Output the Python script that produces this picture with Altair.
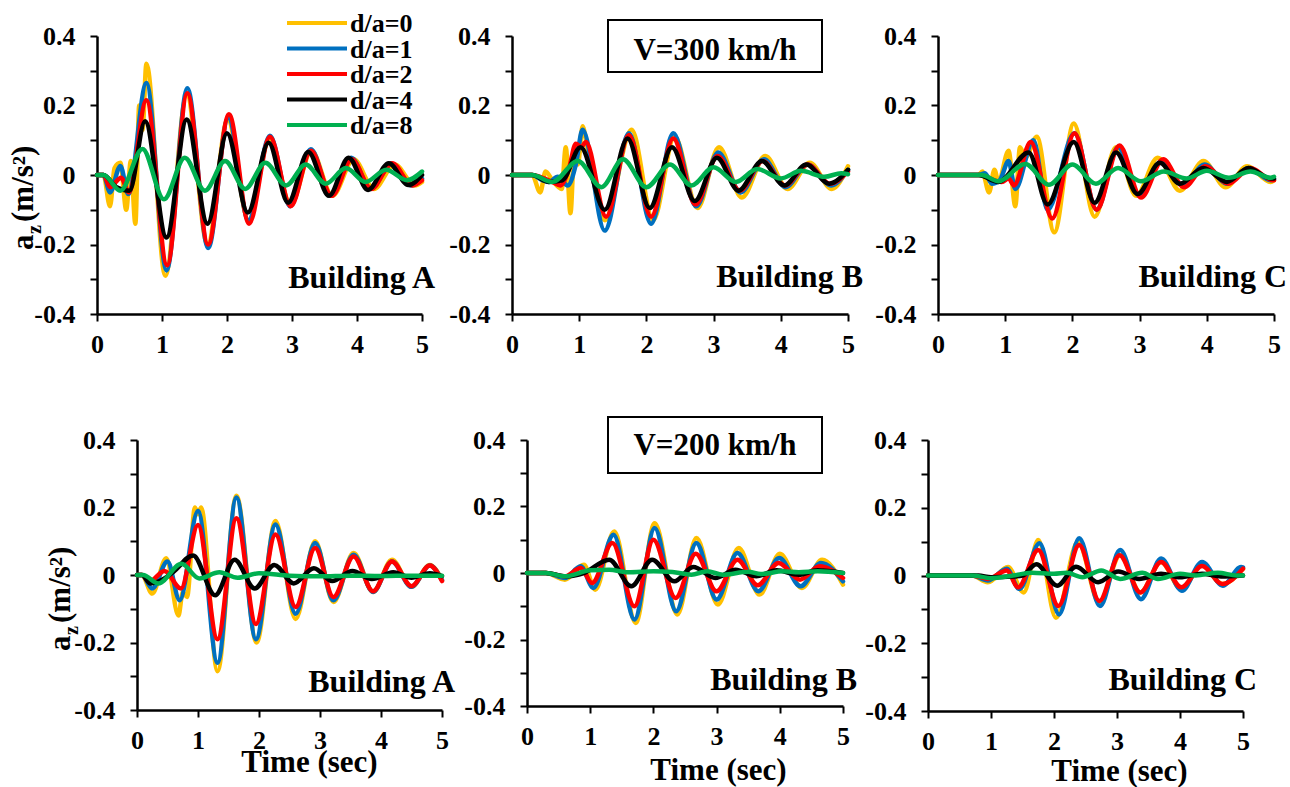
import altair as alt
import pandas as pd

SERIES = ["d/a=0", "d/a=1", "d/a=2", "d/a=4", "d/a=8"]
COLORS = ["#FFC000", "#0070C0", "#FF0000", "#000000", "#00B050"]
X_TICKS = [0, 1, 2, 3, 4, 5]
Y_TICKS = [-0.4, -0.3, -0.2, -0.1, 0, 0.1, 0.2, 0.3, 0.4]

# ---------------- V = 300 km/h ----------------
# Building A
A300_0 = [(0,0),(0.1,0),(0.2,-0.09),(0.27,0.02),(0.36,0.035),(0.45,-0.1),(0.52,0.04),(0.59,-0.14),(0.65,0.2),(0.7,0.13),(0.76,0.32),(1.05,-0.29),(1.38,0.23),(1.7,-0.2),(2.01,0.16),(2.33,-0.13),(2.65,0.1),(2.98,-0.085),(3.3,0.07),(3.62,-0.06),(3.95,0.045),(4.26,-0.04),(4.58,0.03),(4.89,-0.03),(5.0,-0.02)]
A300_1 = [(0,0),(0.1,0),(0.2,-0.05),(0.36,0.026),(0.48,-0.055),(0.76,0.265),(1.07,-0.275),(1.39,0.25),(1.71,-0.21),(2.02,0.165),(2.33,-0.13),(2.66,0.113),(2.97,-0.09),(3.29,0.074),(3.6,-0.06),(3.91,0.05),(4.21,-0.04),(4.53,0.032),(4.84,-0.03),(5.0,-0.01)]
A300_2 = [(0,0),(0.1,0),(0.2,-0.035),(0.37,-0.008),(0.49,-0.05),(0.76,0.215),(1.08,-0.26),(1.39,0.235),(1.71,-0.2),(2.03,0.175),(2.34,-0.14),(2.66,0.11),(2.98,-0.09),(3.29,0.07),(3.61,-0.06),(3.92,0.045),(4.22,-0.04),(4.54,0.034),(4.85,-0.03),(5.0,-0.015)]
A300_4 = [(0,0),(0.1,0),(0.3,-0.035),(0.5,-0.045),(0.74,0.155),(1.07,-0.18),(1.38,0.16),(1.7,-0.14),(2.0,0.12),(2.32,-0.108),(2.64,0.093),(2.94,-0.08),(3.25,0.066),(3.57,-0.06),(3.87,0.05),(4.17,-0.043),(4.49,0.034),(4.79,-0.029),(5.0,0.0)]
A300_8 = [(0,0),(0.1,0),(0.36,-0.045),(0.7,0.075),(1.03,-0.07),(1.35,0.05),(1.66,-0.045),(1.97,0.04),(2.28,-0.04),(2.59,0.035),(2.91,-0.03),(3.21,0.03),(3.52,-0.025),(3.83,0.02),(4.13,-0.02),(4.45,0.015),(4.77,-0.015),(5.0,0.01)]
# Building B
B300_0 = [(0,0),(0.3,0),(0.42,-0.05),(0.5,0.01),(0.6,-0.015),(0.74,-0.04),(0.8,0.08),(0.87,-0.11),(0.93,0.08),(0.98,0.03),(1.05,0.14),(1.12,0.08),(1.38,-0.13),(1.78,0.13),(2.1,-0.13),(2.42,0.11),(2.76,-0.095),(3.08,0.08),(3.42,-0.065),(3.77,0.055),(4.1,-0.04),(4.43,0.035),(4.76,-0.04),(5.0,0.025)]
B300_1 = [(0,0),(0.3,0),(0.45,-0.015),(0.55,-0.02),(0.68,-0.005),(0.83,-0.03),(0.95,0.03),(1.05,0.13),(1.38,-0.16),(1.74,0.12),(2.07,-0.14),(2.4,0.12),(2.74,-0.09),(3.07,0.065),(3.4,-0.05),(3.75,0.045),(4.07,-0.035),(4.4,0.03),(4.75,-0.03),(5.0,0.015)]
B300_2 = [(0,0),(0.3,0),(0.48,-0.01),(0.6,-0.02),(0.72,-0.03),(0.85,0.02),(0.95,0.09),(1.03,0.08),(1.1,0.095),(1.4,-0.12),(1.74,0.115),(2.07,-0.12),(2.4,0.105),(2.73,-0.085),(3.06,0.055),(3.39,-0.045),(3.73,0.04),(4.06,-0.03),(4.4,0.03),(4.73,-0.025),(5.0,0.01)]
B300_4 = [(0,0),(0.3,0),(0.55,-0.02),(0.75,-0.015),(1.02,0.08),(1.38,-0.1),(1.72,0.105),(2.05,-0.095),(2.38,0.08),(2.72,-0.075),(3.05,0.05),(3.37,-0.045),(3.72,0.04),(4.05,-0.03),(4.38,0.03),(4.72,-0.025),(5.0,0.015)]
B300_8 = [(0,0),(0.3,0),(0.6,-0.02),(0.98,0.04),(1.33,-0.035),(1.65,0.045),(2.0,-0.035),(2.35,0.03),(2.67,-0.03),(3.0,0.022),(3.33,-0.02),(3.65,0.017),(4.0,-0.01),(4.3,0.012),(4.65,-0.005),(4.9,0.005),(5.0,0.002)]
# Building C
C300_0 = [(0,0),(0.6,0),(0.66,0.01),(0.76,-0.05),(0.84,0.015),(0.9,-0.02),(1.05,0.07),(1.15,-0.09),(1.22,0.08),(1.3,0.05),(1.47,0.11),(1.73,-0.165),(2.02,0.148),(2.33,-0.12),(2.65,0.08),(2.95,-0.06),(3.27,0.05),(3.6,-0.045),(3.95,0.04),(4.28,-0.035),(4.6,0.025),(4.95,-0.02),(5.0,-0.015)]
C300_1 = [(0,0),(0.6,0),(0.7,0.005),(0.8,-0.025),(0.92,-0.015),(1.05,0.04),(1.15,-0.04),(1.42,0.1),(1.63,-0.1),(2.03,0.12),(2.36,-0.1),(2.68,0.08),(3.0,-0.06),(3.33,0.04),(3.64,-0.03),(3.97,0.03),(4.3,-0.025),(4.62,0.02),(4.95,-0.015),(5.0,-0.012)]
C300_2 = [(0,0),(0.6,0),(0.95,-0.02),(1.05,-0.01),(1.13,-0.03),(1.38,0.095),(1.7,-0.125),(2.03,0.12),(2.36,-0.1),(2.7,0.085),(3.02,-0.065),(3.35,0.045),(3.66,-0.035),(3.98,0.025),(4.32,-0.025),(4.65,0.02),(4.98,-0.015),(5.0,-0.015)]
C300_4 = [(0,0),(0.6,0),(0.9,-0.02),(1.35,0.065),(1.63,-0.085),(2.02,0.095),(2.33,-0.08),(2.65,0.065),(2.97,-0.055),(3.3,0.035),(3.6,-0.025),(3.95,0.02),(4.3,-0.02),(4.62,0.02),(4.95,-0.01),(5.0,-0.01)]
C300_8 = [(0,0),(0.65,0),(0.9,-0.018),(1.3,0.032),(1.65,-0.028),(2.0,0.03),(2.35,-0.025),(2.68,0.02),(3.02,-0.018),(3.36,0.01),(3.7,-0.01),(4.0,0.012),(4.33,-0.008),(4.65,0.01),(4.95,-0.008),(5.0,-0.005)]

# ---------------- V = 200 km/h ----------------
A200_0 = [(0,0),(0.08,0),(0.25,-0.055),(0.48,0.05),(0.68,-0.12),(0.75,-0.05),(0.82,-0.065),(0.95,0.2),(1.0,0.18),(1.05,0.2),(1.32,-0.285),(1.63,0.235),(1.96,-0.2),(2.27,0.16),(2.6,-0.13),(2.92,0.1),(3.22,-0.08),(3.55,0.065),(3.87,-0.05),(4.18,0.045),(4.5,-0.035),(4.8,0.03),(5.0,-0.015)]
A200_1 = [(0,0),(0.08,0),(0.25,-0.04),(0.5,0.04),(0.7,-0.075),(1.0,0.19),(1.32,-0.26),(1.63,0.23),(1.95,-0.19),(2.27,0.15),(2.6,-0.115),(2.92,0.095),(3.22,-0.075),(3.55,0.06),(3.87,-0.05),(4.18,0.04),(4.5,-0.035),(4.8,0.028),(5.0,-0.015)]
A200_2 = [(0,0),(0.08,0),(0.2,-0.02),(0.45,0.012),(0.72,-0.04),(1.0,0.148),(1.32,-0.19),(1.63,0.168),(1.95,-0.145),(2.27,0.12),(2.6,-0.095),(2.92,0.08),(3.22,-0.065),(3.55,0.055),(3.87,-0.048),(4.18,0.04),(4.5,-0.033),(4.8,0.028),(5.0,-0.018)]
A200_4 = [(0,0),(0.08,0),(0.22,-0.025),(0.45,-0.01),(0.6,0.01),(0.92,0.058),(1.28,-0.06),(1.6,0.045),(1.93,-0.04),(2.25,0.03),(2.57,-0.025),(2.9,0.02),(3.2,-0.018),(3.53,0.012),(3.85,-0.012),(4.2,0.008),(4.5,-0.008),(4.8,0.005),(5.0,-0.003)]
A200_8 = [(0,0),(0.1,0),(0.35,-0.025),(0.73,0.033),(1.02,-0.01),(1.35,0.008),(1.65,-0.008),(2.0,0.005),(2.5,-0.002),(3.0,-0.004),(3.5,-0.002),(4.0,-0.003),(4.5,-0.002),(5.0,-0.002)]
B200_0 = [(0,0),(0.3,0),(0.6,-0.02),(0.9,0.025),(1.08,-0.05),(1.38,0.125),(1.72,-0.15),(2.02,0.15),(2.38,-0.125),(2.68,0.105),(3.02,-0.095),(3.35,0.075),(3.68,-0.065),(4.0,0.058),(4.35,-0.045),(4.67,0.04),(5.0,-0.035)]
B200_1 = [(0,0),(0.3,0),(0.6,-0.015),(0.85,0.02),(1.05,-0.045),(1.37,0.115),(1.7,-0.14),(2.02,0.135),(2.36,-0.115),(2.68,0.09),(3.0,-0.08),(3.33,0.06),(3.66,-0.055),(3.99,0.045),(4.33,-0.04),(4.65,0.03),(5.0,-0.025)]
B200_2 = [(0,0),(0.3,0),(0.6,-0.01),(0.85,0.015),(1.03,-0.03),(1.35,0.09),(1.7,-0.1),(2.0,0.1),(2.35,-0.075),(2.67,0.058),(3.0,-0.055),(3.33,0.04),(3.65,-0.037),(3.98,0.03),(4.32,-0.02),(4.63,0.02),(5.0,-0.015)]
B200_4 = [(0,0),(0.3,0),(0.62,-0.01),(0.9,0.0),(1.3,0.04),(1.65,-0.04),(1.98,0.04),(2.33,-0.025),(2.63,0.018),(2.98,-0.015),(3.3,0.01),(3.63,-0.01),(3.95,0.008),(4.3,-0.005),(4.6,0.008),(5.0,0.0)]
B200_8 = [(0,0),(0.3,0),(0.6,-0.01),(1.0,0.008),(1.3,0.01),(1.6,0.002),(2.0,0.005),(2.3,0.003),(2.6,-0.005),(2.85,0.005),(3.1,-0.005),(3.5,0.004),(3.7,-0.003),(4.05,0.005),(4.3,0.002),(4.6,0.005),(5.0,0.0)]
C200_0 = [(0,0),(0.7,0),(0.95,-0.02),(1.27,0.025),(1.52,-0.05),(1.75,0.105),(2.03,-0.125),(2.38,0.1),(2.72,-0.08),(3.05,0.06),(3.37,-0.05),(3.7,0.04),(4.02,-0.04),(4.35,0.03),(4.67,-0.025),(5.0,0.02)]
C200_1 = [(0,0),(0.7,0),(0.95,-0.015),(1.25,0.02),(1.45,-0.04),(1.77,0.095),(2.08,-0.115),(2.4,0.11),(2.73,-0.09),(3.05,0.075),(3.38,-0.07),(3.7,0.05),(4.03,-0.045),(4.35,0.04),(4.68,-0.03),(4.97,0.025),(5.0,0.024)]
C200_2 = [(0,0),(0.7,0),(0.95,-0.01),(1.25,0.015),(1.43,-0.035),(1.75,0.075),(2.07,-0.09),(2.4,0.09),(2.72,-0.075),(3.04,0.06),(3.37,-0.05),(3.7,0.04),(4.02,-0.035),(4.35,0.028),(4.67,-0.025),(5.0,0.02)]
C200_4 = [(0,0),(0.8,0),(1.0,-0.005),(1.35,-0.003),(1.5,0.0),(1.72,0.033),(2.05,-0.03),(2.35,0.026),(2.7,-0.02),(3.02,0.012),(3.35,-0.01),(3.7,0.005),(4.0,-0.005),(4.35,0.005),(4.65,-0.003),(5.0,0.0)]
C200_8 = [(0,0),(0.7,0),(1.0,-0.008),(1.35,0.0),(1.65,0.008),(2.0,0.005),(2.2,0.008),(2.45,-0.005),(2.75,0.015),(3.05,-0.01),(3.4,0.008),(3.65,-0.01),(4.0,0.005),(4.25,0.0),(4.6,0.008),(4.9,0.0),(5.0,0.0)]

FONT = "Liberation Serif"
ONE = pd.DataFrame({"k": [0]})

Y_LABEL_EXPR = ("round(datum.value*10) % 2 != 0 ? '' : (round(datum.value*10) == 0 ? '0' : "
                "(datum.value < 0 ? '-' : '') + '0.' + abs(round(datum.value*10)))")


def text_mark(txt, x, y, size, align="left", baseline="alphabetic", angle=0):
    kw = dict(text=txt, font=FONT, fontSize=size, fontWeight="bold", color="black",
              align=align, baseline=baseline)
    if angle:
        kw["angle"] = angle
    return alt.Chart(ONE).mark_text(**kw).encode(x=alt.value(x), y=alt.value(y))


def ytitle(ax, ay, zx, zy, px, py):
    return [text_mark("a", ax, ay, 31, angle=270),
            text_mark("z", zx, zy, 20, angle=270),
            text_mark("(m/s²)", px, py, 31, angle=270)]


def vbox(label, x1, x2, y1, y2, tx, ty):
    box = alt.Chart(ONE).mark_rect(fill="white", stroke="black", strokeWidth=2).encode(
        x=alt.value(x1), x2=alt.value(x2), y=alt.value(y1), y2=alt.value(y2))
    return [box, text_mark(label, tx, ty, 31, align="center")]


def panel(lists, w, h, bldg, bx, by, xtitle=None, tx=0, ty=0, extras=()):
    frames = []
    for name, pts in zip(SERIES, lists):
        frames.append(pd.DataFrame({"t": [p[0] for p in pts], "v": [p[1] for p in pts], "s": name}))
    df = pd.concat(frames, ignore_index=True)
    axkw = dict(values=X_TICKS, format="d", labelPadding=10, labelFlush=False, grid=False)
    if xtitle:
        axkw.update(titleX=tx, titleY=ty, titleAlign="center", titleBaseline="alphabetic",
                    titleFont=FONT, titleFontSize=31, titleFontWeight="bold", titleColor="black")
    X = alt.X("t:Q", scale=alt.Scale(domain=[0, 5], nice=False, zero=False),
              axis=alt.Axis(**axkw), title=xtitle)
    Y = alt.Y("v:Q", scale=alt.Scale(domain=[-0.4, 0.4], nice=False, zero=False),
              axis=alt.Axis(values=Y_TICKS, labelExpr=Y_LABEL_EXPR, labelPadding=15,
                            labelFlush=False, grid=False), title=None)
    layers = []
    for name, col in zip(SERIES, COLORS):
        layers.append(
            alt.Chart(df).transform_filter(alt.datum.s == name)
            .mark_line(color=col, strokeWidth=4.5, interpolate="monotone",
                       strokeCap="round", strokeJoin="round")
            .encode(x=X, y=Y)
        )
    layers.append(text_mark(bldg, bx, by, 32, align="right"))
    layers.extend(extras)
    return alt.layer(*layers).properties(width=w, height=h)


# legend (inside top-left panel)
legend_y = [-13, 12.5, 38, 63.5, 89]
legend = []
for name, col, ly in zip(SERIES, COLORS, legend_y):
    legend.append(alt.Chart(ONE).mark_rule(color=col, strokeWidth=4).encode(
        x=alt.value(190), x2=alt.value(250), y=alt.value(ly)))
    legend.append(text_mark(name, 253, ly + 1, 26, baseline="middle"))

# invisible frame that fixes the page bounds (0,0)-(1290,787)
frame = alt.Chart(ONE).mark_rule(strokeOpacity=0, strokeWidth=1).encode(
    x=alt.value(-96.5), x2=alt.value(1192.5), y=alt.value(-35.5), y2=alt.value(750.5))

pA300 = panel([A300_0, A300_1, A300_2, A300_4, A300_8], 325, 278, "Building A", 338, 252,
              extras=legend + ytitle(-64, 214, -56, 198, -64, 186) + [frame])
pB300 = panel([B300_0, B300_1, B300_2, B300_4, B300_8], 336, 278, "Building B", 351, 251,
              extras=vbox("V=300 km/h", 96, 310, -16, 36, 203, 24))
pC300 = panel([C300_0, C300_1, C300_2, C300_4, C300_8], 336, 278, "Building C", 349, 251)

pA200 = panel([A200_0, A200_1, A200_2, A200_4, A200_8], 305, 270, "Building A", 318, 252,
              xtitle="Time (sec)", tx=172, ty=61,
              extras=ytitle(-67, 211, -59, 195, -67, 183))
pB200 = panel([B200_0, B200_1, B200_2, B200_4, B200_8], 316, 266, "Building B", 330, 250,
              xtitle="Time (sec)", tx=191, ty=73,
              extras=vbox("V=200 km/h", 81, 295, -23, 33, 188, 15))
pC200 = panel([C200_0, C200_1, C200_2, C200_4, C200_8], 315, 271, "Building C", 329, 250,
              xtitle="Time (sec)", tx=191, ty=69)

spacer = alt.Chart(ONE).mark_point(opacity=0).encode(x=alt.value(0), y=alt.value(0)).properties(width=40, height=10)

top = alt.hconcat(pA300, pB300, pC300, spacing=90, bounds="flush")
bottom_inner = alt.hconcat(pA200, pB200, pC200, spacing=85, bounds="flush")
bottom = alt.hconcat(spacer, bottom_inner, spacing=0, bounds="flush")

# with flush bounds a nested row counts with zero height, so the spacing is
# the full distance between the two rows' plot tops
chart = (
    alt.vconcat(top, bottom, spacing=404, bounds="flush")
    .properties(padding=0, autosize=alt.AutoSizeParams(type="pad"), background="white")
    .configure_view(stroke="transparent")
    .configure_axis(domainColor="black", domainWidth=2.5, tickColor="black", tickWidth=2,
                    tickSize=7, labelFont=FONT, labelFontSize=26, labelFontWeight="bold",
                    labelColor="black")
)

chart.save("out.html", embed_options={"renderer": "svg", "actions": False})
